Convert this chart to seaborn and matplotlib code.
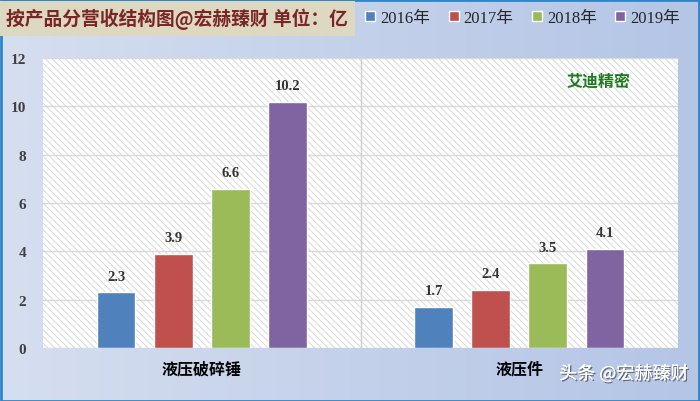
import numpy as np
import pandas as pd
import matplotlib
matplotlib.use("Agg")
import matplotlib.pyplot as plt
import matplotlib.patheffects as pe
from matplotlib.patches import Rectangle
from matplotlib.colors import LinearSegmentedColormap
import seaborn as sns

categories = ["液压破碎锤", "液压件"]
years = ["2016年", "2017年", "2018年", "2019年"]
values_2016 = [2.3, 1.7]
values_2017 = [3.9, 2.4]
values_2018 = [6.6, 3.5]
values_2019 = [10.2, 4.1]
colors = ["#4f81bd", "#c0504d", "#9bbb59", "#8064a2"]
yticks = [0, 2, 4, 6, 8, 10, 12]

rows = []
for year, vals in zip(years, [values_2016, values_2017, values_2018, values_2019]):
    for cat, v in zip(categories, vals):
        rows.append({"产品": cat, "年份": year, "营收": v})
df = pd.DataFrame(rows)

sns.set_theme(style="white")
plt.rcParams["font.family"] = ["Noto Sans CJK SC", "DejaVu Sans"]
plt.rcParams["hatch.linewidth"] = 0.6
serif = ["Liberation Serif", "Noto Sans CJK SC"]

fig = plt.figure(figsize=(7, 4.02), dpi=100)

# blue gradient background
bg = fig.add_axes([0, 0, 1, 1], zorder=-10)
grad = np.linspace(0, 1, 256).reshape(1, -1)
cmap = LinearSegmentedColormap.from_list("bg", ["#d6dff0", "#c4d1ea", "#b4c5e6"])
bg.imshow(grad, aspect="auto", cmap=cmap, extent=[0, 1, 0, 1])
bg.set_axis_off()
bg.add_patch(Rectangle((0.001, 0.001), 0.997, 0.996, fill=False, edgecolor="#2e86c8",
                       linewidth=2, transform=bg.transAxes))

ax = fig.add_axes([0.0614, 0.1318, 0.9072, 0.7214])
ax.set_facecolor("white")
ax.add_patch(Rectangle((0, 0), 1, 1, transform=ax.transAxes, facecolor="white",
                       edgecolor="#d4d4d4", hatch="\\\\\\\\\\", linewidth=0, zorder=0))

sns.barplot(data=df, x="产品", y="营收", hue="年份", palette=colors, width=0.72,
            gap=0.32, ax=ax, zorder=3, legend=True, saturation=1)

for cont in ax.containers:
    ax.bar_label(cont, fmt="%.1f", padding=7, fontsize=10.5, fontweight="bold",
                 color="#333333", family=serif)

ax.set_ylim(0, 12)
ax.set_xlim(-0.5, 1.5)
ax.set_yticks(yticks)
ax.yaxis.grid(True, color="#d9d9d9", linewidth=1)
for gl in ax.get_ygridlines():
    gl.set_zorder(1)
ax.axvline(0.5, color="#d0d0d0", linewidth=1, zorder=1)
for s in ax.spines.values():
    s.set_visible(False)
ax.set_xlabel("")
ax.set_ylabel("")
ax.tick_params(axis="y", length=0, pad=12)
ax.tick_params(axis="x", length=0, pad=9)
for t in ax.get_yticklabels():
    t.set_family(serif)
    t.set_fontsize(11)
    t.set_fontweight("bold")
    t.set_color("#404040")
for t in ax.get_xticklabels():
    t.set_fontsize(11.5)
    t.set_fontweight("bold")
    t.set_color("black")

handles, labels = ax.get_legend_handles_labels()
ax.get_legend().remove()
fig.legend(handles, labels, loc="center left", bbox_to_anchor=(0.522, 0.953), ncol=4,
           frameon=False, handlelength=0.6, handleheight=0.6, handletextpad=0.3,
           columnspacing=1.1, borderpad=0, borderaxespad=0,
           prop={"family": serif, "size": 12})

fig.text(0.009, 0.951, "按产品分营收结构图@宏赫臻财 单位：亿", fontsize=13.5,
         fontweight="bold", color="#7b2525", va="center", ha="left",
         bbox=dict(boxstyle="square,pad=0.35", facecolor="#dcd8c2", edgecolor="none"))

ax.text(0.925, 0.95, "艾迪精密", transform=ax.transAxes, fontsize=11.5,
        fontweight="bold", color="#1e7a1e", ha="right", va="top", zorder=5)

fig.text(0.983, 0.068, "头条 @宏赫臻财", fontsize=13, color="white", ha="right",
         va="center", path_effects=[pe.withSimplePatchShadow(offset=(1, -1),
                                                             shadow_rgbFace="#404040", alpha=0.7),
                                    pe.Normal()])

fig.savefig("out.png", dpi=100)
